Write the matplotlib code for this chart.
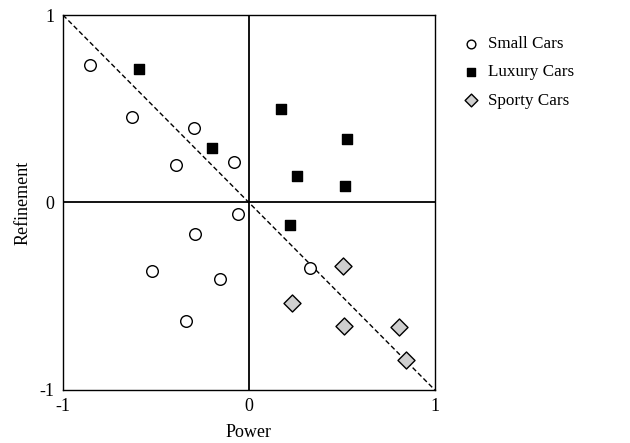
import matplotlib.pyplot as plt

# Perceptual map data
small_x = [-0.855, -0.63, -0.296, -0.39, -0.08, -0.06, -0.29, -0.52, -0.156, -0.34, 0.33]
small_y = [0.733, 0.455, 0.396, 0.198, 0.214, -0.06, -0.166, -0.364, -0.406, -0.63, -0.35]
luxury_x = [-0.59, -0.2, 0.172, 0.53, 0.26, 0.52, 0.22]
luxury_y = [0.71, 0.29, 0.497, 0.34, 0.14, 0.09, -0.12]
sporty_x = [0.505, 0.23, 0.51, 0.81, 0.844]
sporty_y = [-0.337, -0.535, -0.66, -0.663, -0.84]
ticks = [-1, 0, 1]
tick_labels = ["-1", "0", "1"]

plt.rcParams["font.family"] = ["Liberation Serif", "DejaVu Serif"]

fig = plt.figure(figsize=(6.30, 4.43), dpi=100)
ax = fig.add_axes([0.1, 0.12, 0.59, 0.846])

ax.axhline(0, color="black", lw=1.3, zorder=1)
ax.axvline(0, color="black", lw=1.3, zorder=1)
ax.plot([-1, 1], [1, -1], color="black", lw=1, linestyle=(0, (3.5, 2)), zorder=1)

ax.scatter(small_x, small_y, s=70, marker="o", facecolor="white", edgecolor="black",
           linewidths=1, label="Small Cars", zorder=3)
ax.scatter(luxury_x, luxury_y, s=55, marker="s", facecolor="black", edgecolor="black",
           linewidths=1, label="Luxury Cars", zorder=3)
ax.scatter(sporty_x, sporty_y, s=75, marker="D", facecolor="#cfcfcf", edgecolor="black",
           linewidths=1, label="Sporty Cars", zorder=3)

ax.set_xlim(-1, 1)
ax.set_ylim(-1, 1)
ax.set_xticks(ticks)
ax.set_xticklabels(tick_labels)
ax.set_yticks(ticks)
ax.set_yticklabels(tick_labels)
ax.tick_params(length=0, labelsize=13, pad=6)
for sp in ax.spines.values():
    sp.set_linewidth(1.0)

ax.set_xlabel("Power", fontsize=13, labelpad=6)
ax.set_ylabel("Refinement", fontsize=13, labelpad=6)

ax.legend(loc="upper left", bbox_to_anchor=(1.03, 0.985), frameon=False, fontsize=12.3,
          handletextpad=0.35, labelspacing=0.72, handlelength=1.2, markerscale=0.75)

fig.savefig("out.png", dpi=100)
